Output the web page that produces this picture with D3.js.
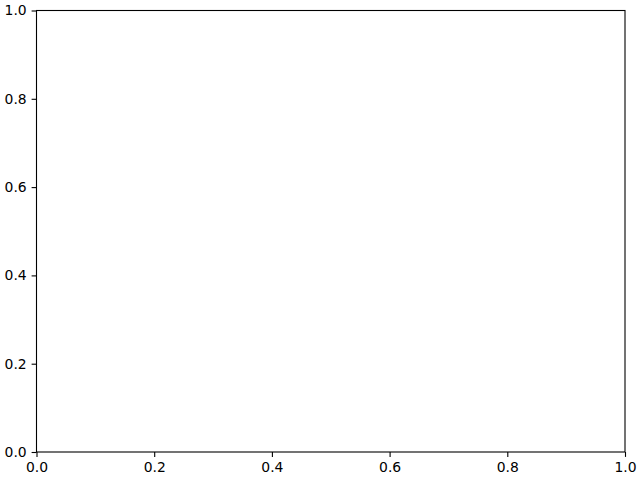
<!DOCTYPE html>
<html>
<head>
<meta charset="utf-8">
<script src="https://cdn.jsdelivr.net/npm/d3@7"></script>
<style>
  body { margin: 0; background: #fff; }
  svg { display: block; }
  .tick text { font-family: "DejaVu Sans", sans-serif; font-size: 13.9px; fill: #000; }
</style>
</head>
<body>
<svg id="chart"></svg>
<script>
// Empty axes, only the default 0..1 ranges
var width = 640;
var height = 480;
var xDomain = [0, 1];
var yDomain = [0, 1];
var xTicks = [0, 0.2, 0.4, 0.6, 0.8, 1.0];
var yTicks = [0, 0.2, 0.4, 0.6, 0.8, 1.0];

var margin = { top: 10.5, right: 15, bottom: 28, left: 36.5 };

var svg = d3.select("#chart")
    .attr("width", width)
    .attr("height", height);

var x = d3.scaleLinear().domain(xDomain).range([margin.left, width - margin.right]);
var y = d3.scaleLinear().domain(yDomain).range([height - margin.bottom, margin.top]);

// x axis
svg.append("g")
    .attr("transform", "translate(0," + y(0) + ")")
    .call(d3.axisBottom(x).tickValues(xTicks).tickFormat(d3.format(".1f")).tickSize(4.9).tickPadding(4.9))
    .call(function (g) { g.select(".domain").remove(); })
    .call(function (g) { g.selectAll("line").attr("stroke", "#000").attr("stroke-width", 1.1); });

// y axis
svg.append("g")
    .attr("transform", "translate(" + x(0) + ",0)")
    .call(d3.axisLeft(y).tickValues(yTicks).tickFormat(d3.format(".1f")).tickSize(4.9).tickPadding(4.9))
    .call(function (g) { g.select(".domain").remove(); })
    .call(function (g) { g.selectAll("line").attr("stroke", "#000").attr("stroke-width", 1.1); });

// frame
svg.append("rect")
    .attr("x", x(0))
    .attr("y", y(1))
    .attr("width", x(1) - x(0))
    .attr("height", y(0) - y(1))
    .attr("fill", "none")
    .attr("stroke", "#000")
    .attr("stroke-width", 1.1);
</script>
</body>
</html>
